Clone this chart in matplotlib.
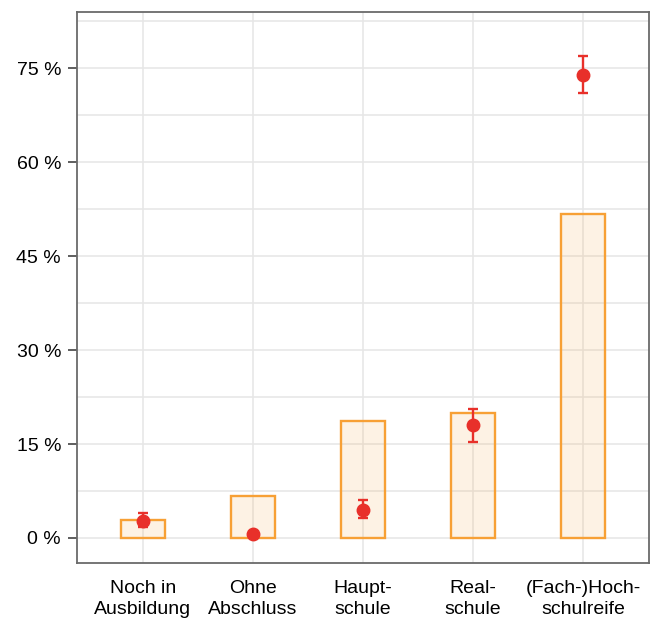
import numpy as np
import matplotlib.pyplot as plt
from matplotlib.colors import to_rgba
from matplotlib.ticker import MultipleLocator, FuncFormatter

plt.rcParams['font.family'] = ['Liberation Sans', 'DejaVu Sans']

# Abschlussgruppen
categories = ['Noch in\nAusbildung', 'Ohne\nAbschluss', 'Haupt-\nschule',
              'Real-\nschule', '(Fach-)Hoch-\nschulreife']
# Anteile in Prozent: Balken (Vergleichsgruppe) und Punkte mit Fehlerbalken
bar_values = [2.8, 6.7, 18.7, 19.9, 51.8]
point_values = [2.7, 0.6, 4.5, 18.0, 73.9]
err_low = [0.9, 0.3, 1.3, 2.6, 2.9]
err_high = [1.3, 0.3, 1.5, 2.6, 3.0]

orange = '#f7a035'
red = '#e8302a'
grid_col = '#e6e6e6'
spine_col = '#6a6a6a'

fig = plt.figure(figsize=(6.56, 6.18), dpi=100)
ax = fig.add_axes([0.1174, 0.089, 0.8719, 0.8916])

x = np.arange(len(categories))
ax.bar(x, bar_values, width=0.4, facecolor=to_rgba(orange, 0.13),
       edgecolor=orange, linewidth=1.7, zorder=2)
ax.errorbar(x, point_values, yerr=[err_low, err_high], fmt='o', color=red,
            markersize=9, elinewidth=1.7, capsize=3.5, capthick=1.7, zorder=3)

ax.set_xlim(-0.6, len(categories) - 0.4)
ax.set_ylim(-4.0, 84.0)
ax.set_xticks(x)
ax.set_xticklabels(categories, fontsize=14, linespacing=1.3)
ax.yaxis.set_major_locator(MultipleLocator(15))
ax.yaxis.set_minor_locator(MultipleLocator(7.5))
ax.yaxis.set_major_formatter(FuncFormatter(lambda v, p: f'{v:.0f} %'))
ax.tick_params(axis='y', which='major', labelsize=14, length=6.5, width=1.1,
               color='#333333', pad=5)
ax.tick_params(axis='y', which='minor', length=0)
ax.tick_params(axis='x', length=0, pad=12)

ax.grid(True, which='both', axis='y', color=grid_col, linewidth=1.1, zorder=0)
ax.grid(True, which='major', axis='x', color=grid_col, linewidth=1.1, zorder=0)
ax.set_axisbelow(True)

for s in ax.spines.values():
    s.set_color(spine_col)
    s.set_linewidth(1.3)

fig.savefig('out.png', dpi=100)
